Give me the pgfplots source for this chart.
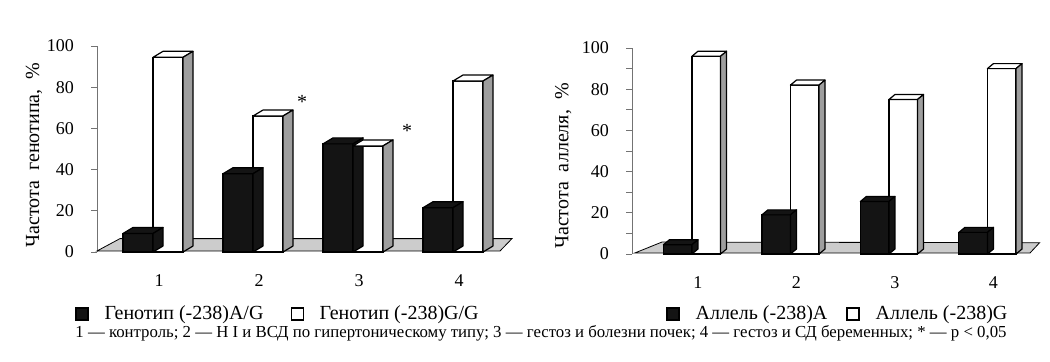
\documentclass[border=0pt]{standalone}
\usepackage{pgfplots}
\usepackage{pgfplotstable}
\pgfplotsset{compat=1.18}
\usepackage{fontspec}
\setmainfont{Liberation Serif}
\pgfdeclareplotmark{nothing}{}
\definecolor{barblack}{gray}{0.08}
\definecolor{sidegray}{gray}{0.62}
\definecolor{floorgray}{gray}{0.80}

\pgfplotstableread{
x   ag    gg
1   9     94.5
2   38    66
3   52.5  51.5
4   21.5  83
}\genotype
\pgfplotstableread{
x   a     g
1   4.5   96
2   19    82
3   25.5  75
4   10.5  90
}\allele

\pgfplotsset{
  box3d/.style n args={6}{%
    scatter, only marks, mark=nothing, forget plot,
    visualization depends on={rawy \as \rawy},
    scatter/@pre marker code/.code={%
      \pgfmathsetmacro\Hh{\rawy*1.03}%
      \path[draw=black, line width=0.6pt, fill=#5, line join=round]
        ({#1-#2},0pt) -- ({#1-#2+#3},#4) -- ({#1+#2+#3},#4) -- ({#1+#2},0pt) -- cycle;
      \path[draw=black, line width=0.6pt, fill=#6, line join=round]
        ({#1+#2},0pt) -- ({#1+#2+#3},#4) -- ({#1+#2+#3},{#4-\Hh*1pt}) -- ({#1+#2},{-\Hh*1pt}) -- cycle;
    },
    scatter/@post marker code/.code={},
  },
  sqlegend/.style={legend image code/.code={\draw[##1, line width=0.6pt] (0pt,-3pt) rectangle (6pt,3pt);}},
  myaxis/.style={
    scale only axis, clip=false,
    ymin=0, ymax=100, ytick={0,20,...,100},
    axis lines=left, axis line style={-},
    x axis line style={draw=none},
    y axis line style={black!55, line width=0.5pt},
    xtick={1,2,3,4}, xtick style={draw=none},
    ytick align=outside, major tick length=3pt, minor tick length=3pt,
    ytick style={black!55, line width=0.5pt},
    /pgf/number format/assume math mode=true,
    tick label style={font=\fontsize{9}{10}\selectfont},
    xticklabel style={yshift=-6.5pt, xshift=3pt},
    yticklabel style={xshift=-5pt},
    legend columns=2, legend cell align=left,
  },
  mylegend/.style 2 args={legend style={at={#1}, anchor=west, draw=none, fill=none, inner sep=0pt,
    font=\fontsize{10}{12}\selectfont,
    /tikz/every odd column/.append style={column sep=6pt},
    /tikz/every even column/.append style={column sep=#2}}},
}

\begin{document}
\begin{tikzpicture}
\path (0,0) rectangle (525pt,180.5pt);

% ---------- left panel
\begin{axis}[myaxis,
  at={(48.5pt,54.5pt)}, anchor=south west,
  width=206.5pt, height=103pt,
  xmin=0.44, xmax=4.57,
  ylabel={Частота\ \ генотипа,\ \ \%},
  every axis y label/.style={at={(axis description cs:-0.1525,0.471)}, rotate=90, anchor=center, font=\fontsize{10}{12}\selectfont},
  mylegend={(axis description cs:-0.0533,-0.301)}{11.5pt},
]
\addplot[fill=floorgray, draw=black, line width=0.4pt, forget plot] coordinates {(0.44,0.5) (4.47,0.5) (4.59,6.5) (0.67,6.5)} -- cycle;
\addplot[ybar, bar width=0.3, bar shift=-0.15, fill=barblack, draw=black, line width=0.6pt, sqlegend] table[x=x, y=ag] {\genotype};
\addplot[box3d={-7.5pt}{7.5pt}{5pt}{3pt}{barblack}{barblack}] table[x=x, y=ag] {\genotype};
\addplot[ybar, bar width=0.3, bar shift=0.15, fill=white, draw=black, line width=0.6pt, sqlegend] table[x=x, y=gg] {\genotype};
\addplot[box3d={7.5pt}{7.5pt}{5pt}{3pt}{white}{sidegray}] table[x=x, y=gg] {\genotype};
\legend{Генотип (-238)A/G, Генотип (-238)G/G}
\node[font=\fontsize{10}{12}\selectfont] at (axis cs:2.49,73) {*};
\node[font=\fontsize{10}{12}\selectfont] at (axis cs:3.54,59) {*};
\end{axis}

% ---------- right panel
\begin{axis}[myaxis,
  at={(316pt,53.5pt)}, anchor=south west,
  width=199pt, height=103pt,
  xmin=0.391, xmax=4.432,
  minor y tick num=1,
  ylabel={Частота\ \ аллеля,\ \ \%},
  every axis y label/.style={at={(axis description cs:-0.173,0.427)}, rotate=90, anchor=center, font=\fontsize{10}{12}\selectfont},
  mylegend={(axis description cs:0.0854,-0.291)}{7.5pt},
]
\addplot[fill=floorgray, draw=black, line width=0.4pt, forget plot] coordinates {(0.42,0.5) (4.432,0.5) (4.53,5.5) (0.695,5.8)} -- cycle;
\addplot[ybar, bar width=0.29, bar shift=-0.145, fill=barblack, draw=black, line width=0.6pt, sqlegend] table[x=x, y=a] {\allele};
\addplot[box3d={-7.14pt}{7.14pt}{3pt}{2.5pt}{barblack}{barblack}] table[x=x, y=a] {\allele};
\addplot[ybar, bar width=0.29, bar shift=0.145, fill=white, draw=black, line width=0.6pt, sqlegend] table[x=x, y=g] {\allele};
\addplot[box3d={7.14pt}{7.14pt}{3pt}{2.5pt}{white}{sidegray}] table[x=x, y=g] {\allele};
\legend{Аллель (-238)A, Аллель (-238)G}
\end{axis}

\node[anchor=west, inner sep=0pt, font=\fontsize{8.4}{10}\selectfont] at (37.5pt,14pt)
  {1 — контроль; 2 — Н I и ВСД по гипертоническому типу; 3 — гестоз и болезни почек; 4 — гестоз и СД беременных; * — p < 0,05};
\end{tikzpicture}
\end{document}
